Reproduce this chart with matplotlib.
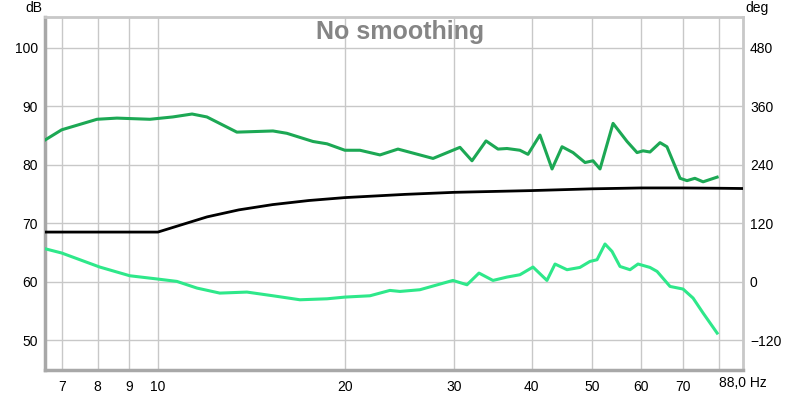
import matplotlib
matplotlib.use("Agg")
import matplotlib.pyplot as plt
from matplotlib.ticker import FixedLocator, NullLocator

plt.rcParams['font.family'] = ['Liberation Sans', 'DejaVu Sans']

# SPL (dark green), dB
spl_f = [6.58, 7.0, 7.98, 8.59, 9.71, 10.57, 11.35, 11.99, 13.4, 15.32, 16.13,
         17.77, 18.72, 20.0, 21.15, 22.78, 24.35, 27.73, 30.64, 32.04, 33.75,
         35.28, 36.48, 38.27, 39.43, 41.22, 43.11, 44.74, 46.6, 48.72, 50.18,
         51.5, 54.05, 56.93, 59.08, 60.4, 61.98, 64.33, 66.0, 69.3, 71.1,
         73.2, 75.47, 77.45, 79.5]
spl_db = [84.25, 86.0, 87.8, 88.0, 87.8, 88.2, 88.7, 88.2, 85.6, 85.8, 85.4,
          84.0, 83.6, 82.5, 82.5, 81.7, 82.7, 81.1, 83.0, 80.7, 84.1,
          82.7, 82.8, 82.5, 81.8, 85.1, 79.3, 83.1, 82.1, 80.4, 80.7,
          79.3, 87.1, 84.0, 82.1, 82.4, 82.2, 83.8, 83.1, 77.7, 77.3,
          77.7, 77.1, 77.5, 77.9]

# black curve, dB
blk_f = [6.58, 10.0, 12.0, 13.5, 15.3, 17.5, 20.0, 25.0, 30.0, 40.0, 50.0,
         60.0, 70.0, 80.0, 88.0]
blk_db = [68.5, 68.5, 71.1, 72.3, 73.2, 73.9, 74.4, 74.95, 75.3, 75.6, 75.9,
          76.05, 76.05, 76.0, 75.95]

# phase (light green), deg
ph_f = [6.58, 7.0, 8.06, 9.01, 10.0, 10.73, 11.56, 12.58, 13.91, 15.32, 16.93,
        18.72, 20.0, 21.95, 23.63, 24.53, 26.41, 29.85, 31.45, 32.88, 34.63,
        36.48, 38.27, 40.17, 42.3, 43.59, 45.57, 47.8, 49.61, 50.93, 52.46,
        53.84, 55.46, 57.56, 59.29, 61.98, 63.63, 66.76, 70.06, 72.71, 75.47,
        79.5]
ph_deg = [67.8, 59, 30.2, 12.3, 5.5, 0.7, -13, -23.3, -21.2, -28.8, -37,
          -35, -31.5, -28.8, -17.8, -19.9, -16.4, 2.7, -6.2, 17.8, 2.7,
          9.6, 14.4, 30.2, 2.7, 36.4, 24.7, 29.4, 41.7, 45.2, 77.5,
          62.3, 31.4, 24.7, 36.4, 29.4, 21.2, -9.6, -15, -33.5, -64.3,
          -105.4]

x_ticks = [7, 8, 9, 10, 20, 30, 40, 50, 60, 70, 80]
x_labels = ['7', '8', '9', '10', '20', '30', '40', '50', '60', '70', '']
db_ticks = [50, 60, 70, 80, 90, 100]
deg_ticks = [-120, 0, 120, 240, 360, 480]

fig = plt.figure(figsize=(8, 3.94), dpi=100)
ax = fig.add_axes([45/800, 24/394, 698/800, 353/394])
ax.set_xscale('log')
ax.set_xlim(6.58, 87.5)
ax.set_ylim(44.9, 105.3)

ax.xaxis.set_major_locator(FixedLocator(x_ticks))
ax.xaxis.set_minor_locator(NullLocator())
ax.set_xticklabels(x_labels)
ax.set_yticks(db_ticks)
ax.grid(True, color='#c8c8c8', lw=1)
ax.tick_params(length=0, labelsize=10, pad=5)
ax.tick_params(axis='x', pad=7)

for side in ['top', 'right']:
    ax.spines[side].set_color('#c8c8c8')
    ax.spines[side].set_linewidth(2)
for side in ['left', 'bottom']:
    ax.spines[side].set_color('#a8a8a8')
    ax.spines[side].set_linewidth(2.5)

ax.plot(blk_f, blk_db, color='black', lw=2, zorder=3)
ax.plot(spl_f, spl_db, color='#1ca854', lw=2.2, zorder=4, solid_joinstyle='round')

ax2 = ax.twinx()
ax2.set_ylim((44.9 - 60) * 12, (105.3 - 60) * 12)
ax2.set_yticks(deg_ticks)
ax2.tick_params(length=0, labelsize=10, pad=5)
for s in ax2.spines.values():
    s.set_visible(False)
ax2.plot(ph_f, ph_deg, color='#2ee88a', lw=2.2, solid_joinstyle='round')

fig.text(400/800, 1 - 32/394, 'No smoothing', ha='center', va='center',
         fontsize=18, fontweight='bold', color='#858585')
fig.text(25/800, 1 - 8/394, 'dB', ha='left', va='center', fontsize=10)
fig.text(745/800, 1 - 8/394, 'deg', ha='left', va='center', fontsize=10)
fig.text(719/800, 1 - 383/394, '88,0 Hz', ha='left', va='center', fontsize=10)

fig.savefig('out.png', dpi=100)
